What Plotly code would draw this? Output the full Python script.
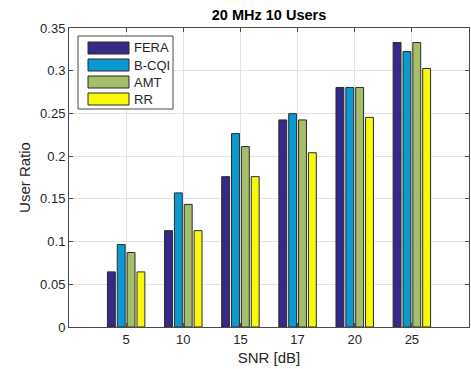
import plotly.graph_objects as go

# SNR categories and user ratio per scheduler
snr_labels = ["5", "10", "15", "17", "20", "25"]
series_names = ["FERA", "B-CQI", "AMT", "RR"]
fera = [0.0645, 0.1128, 0.176, 0.2424, 0.2804, 0.333]
bcqi = [0.0965, 0.157, 0.2264, 0.2497, 0.2804, 0.3224]
amt = [0.0872, 0.1435, 0.2112, 0.2424, 0.2804, 0.333]
rr = [0.0645, 0.1128, 0.176, 0.204, 0.2454, 0.3026]
y_ticks = [0, 0.05, 0.1, 0.15, 0.2, 0.25, 0.3, 0.35]

colors = ["#352a87", "#0a9ad0", "#a5be6a", "#f8f80a"]
values = [fera, bcqi, amt, rr]

axis_col = "#4a4a4a"
text_col = "#262626"
font_family = "Liberation Sans, Arial, sans-serif"

fig = go.Figure()
for name, vals, col in zip(series_names, values, colors):
    fig.add_trace(go.Bar(
        x=snr_labels, y=vals, name=name,
        marker=dict(color=col, line=dict(color="#2b2b2b", width=1)),
        showlegend=False,
    ))

# Legend box drawn in paper coordinates (wide MATLAB-style swatches)
W, H = 471, 369
L, R, T, B = 69, 2, 28, 42
pw, ph = W - L - R, H - T - B

def px(x):
    return (x - L) / pw

def py(y):
    return 1 - (y - T) / ph

shapes = [dict(type="rect", xref="paper", yref="paper",
               x0=px(78), x1=px(173), y0=py(109), y1=py(36),
               line=dict(color=axis_col, width=1), fillcolor="white", layer="above")]
annotations = []
for i, (name, col) in enumerate(zip(series_names, colors)):
    top = 42 + i * 17
    shapes.append(dict(type="rect", xref="paper", yref="paper",
                       x0=px(88), x1=px(129), y0=py(top + 12), y1=py(top),
                       line=dict(color="#2b2b2b", width=1), fillcolor=col, layer="above"))
    annotations.append(dict(xref="paper", yref="paper", x=px(132), y=py(top + 6),
                            text=name, showarrow=False, xanchor="left", yanchor="middle",
                            font=dict(size=13, color=text_col, family=font_family)))

fig.update_layout(
    width=W, height=H,
    margin=dict(l=L, r=R, t=T, b=B),
    paper_bgcolor="white", plot_bgcolor="white",
    barmode="group", bargap=0.31, bargroupgap=0.2,
    font=dict(family=font_family, color=text_col, size=13),
    title=dict(text="<b>20 MHz 10 Users</b>", x=0.5 * (L + (W - R)) / W, xanchor="center",
               y=1 - 15 / H, yanchor="middle", font=dict(size=14.5, color="black")),
    shapes=shapes, annotations=annotations,
)
fig.update_xaxes(
    type="category", range=[-1, 6],
    showline=True, linecolor=axis_col, linewidth=1, mirror="ticks",
    ticks="inside", ticklen=4, tickcolor=axis_col,
    showgrid=True, gridcolor="#e3e3e3", gridwidth=1,
    tickfont=dict(size=13, color=text_col),
    title=dict(text="SNR [dB]", font=dict(size=15, color=text_col), standoff=6),
)
fig.update_yaxes(
    range=[0, 0.35], tickvals=y_ticks, ticktext=[f"{v:g}" for v in y_ticks],
    showline=True, linecolor=axis_col, linewidth=1, mirror="ticks",
    ticks="inside", ticklen=4, tickcolor=axis_col,
    showgrid=True, gridcolor="#e3e3e3", gridwidth=1, zeroline=False,
    tickfont=dict(size=13, color=text_col),
    title=dict(text="User Ratio", font=dict(size=15, color=text_col), standoff=5),
)

fig.write_html("out.html")
